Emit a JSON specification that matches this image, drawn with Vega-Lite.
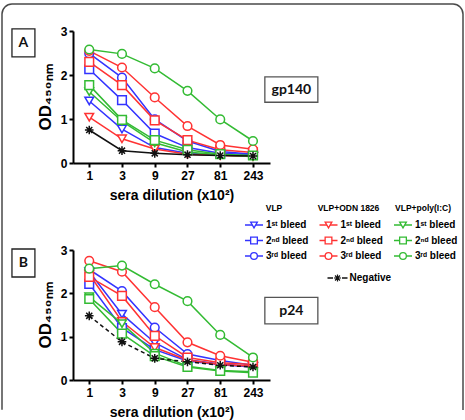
{
  "$schema": "https://vega.github.io/schema/vega-lite/v6.json",
  "width": 465,
  "height": 420,
  "autosize": {"type": "fit", "contains": "padding"},
  "padding": {"left": 2, "top": 4, "right": 2, "bottom": 0},
  "background": "white",
  "config": {
    "view": {"stroke": "#4a4a4a", "strokeWidth": 1.5, "cornerRadius": 10, "strokeDash": [852.7, 472.4, 420]},
    "axis": {
      "grid": false,
      "domainColor": "black",
      "domainWidth": 2,
      "tickColor": "black",
      "tickWidth": 2,
      "tickSize": 4,
      "labelFont": "Liberation Sans",
      "labelFontWeight": "bold",
      "labelFontSize": 12,
      "labelColor": "black",
      "labelPadding": 2,
      "titleFont": "Liberation Sans",
      "titleFontWeight": "bold",
      "titleColor": "black"
    },
    "axisX": {"titleFontSize": 14, "titlePadding": 7, "labelPadding": 3},
    "axisY": {"titleFontSize": 17, "titlePadding": 6},
    "text": {"font": "Liberation Sans", "color": "black"}
  },
  "datasets": {
    "od": [
      {"panel": "A", "grp": "VLP", "bleed": "1st", "dil": 1, "od": 1.41},
      {"panel": "A", "grp": "VLP", "bleed": "1st", "dil": 3, "od": 0.77},
      {"panel": "A", "grp": "VLP", "bleed": "1st", "dil": 9, "od": 0.35},
      {"panel": "A", "grp": "VLP", "bleed": "1st", "dil": 27, "od": 0.22},
      {"panel": "A", "grp": "VLP", "bleed": "1st", "dil": 81, "od": 0.18},
      {"panel": "A", "grp": "VLP", "bleed": "1st", "dil": 243, "od": 0.16},
      {"panel": "A", "grp": "VLP", "bleed": "2nd", "dil": 1, "od": 2.13},
      {"panel": "A", "grp": "VLP", "bleed": "2nd", "dil": 3, "od": 1.43},
      {"panel": "A", "grp": "VLP", "bleed": "2nd", "dil": 9, "od": 0.67},
      {"panel": "A", "grp": "VLP", "bleed": "2nd", "dil": 27, "od": 0.35},
      {"panel": "A", "grp": "VLP", "bleed": "2nd", "dil": 81, "od": 0.22},
      {"panel": "A", "grp": "VLP", "bleed": "2nd", "dil": 243, "od": 0.19},
      {"panel": "A", "grp": "VLP", "bleed": "3rd", "dil": 1, "od": 2.49},
      {"panel": "A", "grp": "VLP", "bleed": "3rd", "dil": 3, "od": 1.94},
      {"panel": "A", "grp": "VLP", "bleed": "3rd", "dil": 9, "od": 0.99},
      {"panel": "A", "grp": "VLP", "bleed": "3rd", "dil": 27, "od": 0.50},
      {"panel": "A", "grp": "VLP", "bleed": "3rd", "dil": 81, "od": 0.26},
      {"panel": "A", "grp": "VLP", "bleed": "3rd", "dil": 243, "od": 0.20},
      {"panel": "A", "grp": "VLP+ODN 1826", "bleed": "1st", "dil": 1, "od": 1.04},
      {"panel": "A", "grp": "VLP+ODN 1826", "bleed": "1st", "dil": 3, "od": 0.55},
      {"panel": "A", "grp": "VLP+ODN 1826", "bleed": "1st", "dil": 9, "od": 0.32},
      {"panel": "A", "grp": "VLP+ODN 1826", "bleed": "1st", "dil": 27, "od": 0.20},
      {"panel": "A", "grp": "VLP+ODN 1826", "bleed": "1st", "dil": 81, "od": 0.17},
      {"panel": "A", "grp": "VLP+ODN 1826", "bleed": "1st", "dil": 243, "od": 0.15},
      {"panel": "A", "grp": "VLP+ODN 1826", "bleed": "2nd", "dil": 1, "od": 2.30},
      {"panel": "A", "grp": "VLP+ODN 1826", "bleed": "2nd", "dil": 3, "od": 1.77},
      {"panel": "A", "grp": "VLP+ODN 1826", "bleed": "2nd", "dil": 9, "od": 0.97},
      {"panel": "A", "grp": "VLP+ODN 1826", "bleed": "2nd", "dil": 27, "od": 0.52},
      {"panel": "A", "grp": "VLP+ODN 1826", "bleed": "2nd", "dil": 81, "od": 0.30},
      {"panel": "A", "grp": "VLP+ODN 1826", "bleed": "2nd", "dil": 243, "od": 0.24},
      {"panel": "A", "grp": "VLP+ODN 1826", "bleed": "3rd", "dil": 1, "od": 2.55},
      {"panel": "A", "grp": "VLP+ODN 1826", "bleed": "3rd", "dil": 3, "od": 2.17},
      {"panel": "A", "grp": "VLP+ODN 1826", "bleed": "3rd", "dil": 9, "od": 1.49},
      {"panel": "A", "grp": "VLP+ODN 1826", "bleed": "3rd", "dil": 27, "od": 0.84},
      {"panel": "A", "grp": "VLP+ODN 1826", "bleed": "3rd", "dil": 81, "od": 0.41},
      {"panel": "A", "grp": "VLP+ODN 1826", "bleed": "3rd", "dil": 243, "od": 0.31},
      {"panel": "A", "grp": "VLP+poly(I:C)", "bleed": "1st", "dil": 1, "od": 1.62},
      {"panel": "A", "grp": "VLP+poly(I:C)", "bleed": "1st", "dil": 3, "od": 0.95},
      {"panel": "A", "grp": "VLP+poly(I:C)", "bleed": "1st", "dil": 9, "od": 0.46},
      {"panel": "A", "grp": "VLP+poly(I:C)", "bleed": "1st", "dil": 27, "od": 0.25},
      {"panel": "A", "grp": "VLP+poly(I:C)", "bleed": "1st", "dil": 81, "od": 0.18},
      {"panel": "A", "grp": "VLP+poly(I:C)", "bleed": "1st", "dil": 243, "od": 0.15},
      {"panel": "A", "grp": "VLP+poly(I:C)", "bleed": "2nd", "dil": 1, "od": 1.77},
      {"panel": "A", "grp": "VLP+poly(I:C)", "bleed": "2nd", "dil": 3, "od": 0.98},
      {"panel": "A", "grp": "VLP+poly(I:C)", "bleed": "2nd", "dil": 9, "od": 0.52},
      {"panel": "A", "grp": "VLP+poly(I:C)", "bleed": "2nd", "dil": 27, "od": 0.30},
      {"panel": "A", "grp": "VLP+poly(I:C)", "bleed": "2nd", "dil": 81, "od": 0.20},
      {"panel": "A", "grp": "VLP+poly(I:C)", "bleed": "2nd", "dil": 243, "od": 0.17},
      {"panel": "A", "grp": "VLP+poly(I:C)", "bleed": "3rd", "dil": 1, "od": 2.58},
      {"panel": "A", "grp": "VLP+poly(I:C)", "bleed": "3rd", "dil": 3, "od": 2.48},
      {"panel": "A", "grp": "VLP+poly(I:C)", "bleed": "3rd", "dil": 9, "od": 2.15},
      {"panel": "A", "grp": "VLP+poly(I:C)", "bleed": "3rd", "dil": 27, "od": 1.64},
      {"panel": "A", "grp": "VLP+poly(I:C)", "bleed": "3rd", "dil": 81, "od": 0.99},
      {"panel": "A", "grp": "VLP+poly(I:C)", "bleed": "3rd", "dil": 243, "od": 0.50},
      {"panel": "A", "grp": "Negative", "bleed": "neg", "dil": 1, "od": 0.75},
      {"panel": "A", "grp": "Negative", "bleed": "neg", "dil": 3, "od": 0.28},
      {"panel": "A", "grp": "Negative", "bleed": "neg", "dil": 9, "od": 0.22},
      {"panel": "A", "grp": "Negative", "bleed": "neg", "dil": 27, "od": 0.19},
      {"panel": "A", "grp": "Negative", "bleed": "neg", "dil": 81, "od": 0.17},
      {"panel": "A", "grp": "Negative", "bleed": "neg", "dil": 243, "od": 0.16},

      {"panel": "B", "grp": "VLP", "bleed": "1st", "dil": 1, "od": 2.50},
      {"panel": "B", "grp": "VLP", "bleed": "1st", "dil": 3, "od": 1.52},
      {"panel": "B", "grp": "VLP", "bleed": "1st", "dil": 9, "od": 0.86},
      {"panel": "B", "grp": "VLP", "bleed": "1st", "dil": 27, "od": 0.47},
      {"panel": "B", "grp": "VLP", "bleed": "1st", "dil": 81, "od": 0.37},
      {"panel": "B", "grp": "VLP", "bleed": "1st", "dil": 243, "od": 0.31},
      {"panel": "B", "grp": "VLP", "bleed": "2nd", "dil": 1, "od": 2.22},
      {"panel": "B", "grp": "VLP", "bleed": "2nd", "dil": 3, "od": 1.20},
      {"panel": "B", "grp": "VLP", "bleed": "2nd", "dil": 9, "od": 0.70},
      {"panel": "B", "grp": "VLP", "bleed": "2nd", "dil": 27, "od": 0.44},
      {"panel": "B", "grp": "VLP", "bleed": "2nd", "dil": 81, "od": 0.35},
      {"panel": "B", "grp": "VLP", "bleed": "2nd", "dil": 243, "od": 0.30},
      {"panel": "B", "grp": "VLP", "bleed": "3rd", "dil": 1, "od": 2.55},
      {"panel": "B", "grp": "VLP", "bleed": "3rd", "dil": 3, "od": 2.05},
      {"panel": "B", "grp": "VLP", "bleed": "3rd", "dil": 9, "od": 1.21},
      {"panel": "B", "grp": "VLP", "bleed": "3rd", "dil": 27, "od": 0.60},
      {"panel": "B", "grp": "VLP", "bleed": "3rd", "dil": 81, "od": 0.45},
      {"panel": "B", "grp": "VLP", "bleed": "3rd", "dil": 243, "od": 0.34},
      {"panel": "B", "grp": "VLP+ODN 1826", "bleed": "1st", "dil": 1, "od": 2.44},
      {"panel": "B", "grp": "VLP+ODN 1826", "bleed": "1st", "dil": 3, "od": 1.35},
      {"panel": "B", "grp": "VLP+ODN 1826", "bleed": "1st", "dil": 9, "od": 0.75},
      {"panel": "B", "grp": "VLP+ODN 1826", "bleed": "1st", "dil": 27, "od": 0.46},
      {"panel": "B", "grp": "VLP+ODN 1826", "bleed": "1st", "dil": 81, "od": 0.36},
      {"panel": "B", "grp": "VLP+ODN 1826", "bleed": "1st", "dil": 243, "od": 0.32},
      {"panel": "B", "grp": "VLP+ODN 1826", "bleed": "2nd", "dil": 1, "od": 2.38},
      {"panel": "B", "grp": "VLP+ODN 1826", "bleed": "2nd", "dil": 3, "od": 1.94},
      {"panel": "B", "grp": "VLP+ODN 1826", "bleed": "2nd", "dil": 9, "od": 1.02},
      {"panel": "B", "grp": "VLP+ODN 1826", "bleed": "2nd", "dil": 27, "od": 0.52},
      {"panel": "B", "grp": "VLP+ODN 1826", "bleed": "2nd", "dil": 81, "od": 0.40},
      {"panel": "B", "grp": "VLP+ODN 1826", "bleed": "2nd", "dil": 243, "od": 0.36},
      {"panel": "B", "grp": "VLP+ODN 1826", "bleed": "3rd", "dil": 1, "od": 2.75},
      {"panel": "B", "grp": "VLP+ODN 1826", "bleed": "3rd", "dil": 3, "od": 2.50},
      {"panel": "B", "grp": "VLP+ODN 1826", "bleed": "3rd", "dil": 9, "od": 1.68},
      {"panel": "B", "grp": "VLP+ODN 1826", "bleed": "3rd", "dil": 27, "od": 0.87},
      {"panel": "B", "grp": "VLP+ODN 1826", "bleed": "3rd", "dil": 81, "od": 0.56},
      {"panel": "B", "grp": "VLP+ODN 1826", "bleed": "3rd", "dil": 243, "od": 0.41},
      {"panel": "B", "grp": "VLP+poly(I:C)", "bleed": "1st", "dil": 1, "od": 1.92},
      {"panel": "B", "grp": "VLP+poly(I:C)", "bleed": "1st", "dil": 3, "od": 1.30},
      {"panel": "B", "grp": "VLP+poly(I:C)", "bleed": "1st", "dil": 9, "od": 0.62},
      {"panel": "B", "grp": "VLP+poly(I:C)", "bleed": "1st", "dil": 27, "od": 0.32},
      {"panel": "B", "grp": "VLP+poly(I:C)", "bleed": "1st", "dil": 81, "od": 0.22},
      {"panel": "B", "grp": "VLP+poly(I:C)", "bleed": "1st", "dil": 243, "od": 0.19},
      {"panel": "B", "grp": "VLP+poly(I:C)", "bleed": "2nd", "dil": 1, "od": 1.87},
      {"panel": "B", "grp": "VLP+poly(I:C)", "bleed": "2nd", "dil": 3, "od": 1.07},
      {"panel": "B", "grp": "VLP+poly(I:C)", "bleed": "2nd", "dil": 9, "od": 0.55},
      {"panel": "B", "grp": "VLP+poly(I:C)", "bleed": "2nd", "dil": 27, "od": 0.30},
      {"panel": "B", "grp": "VLP+poly(I:C)", "bleed": "2nd", "dil": 81, "od": 0.21},
      {"panel": "B", "grp": "VLP+poly(I:C)", "bleed": "2nd", "dil": 243, "od": 0.17},
      {"panel": "B", "grp": "VLP+poly(I:C)", "bleed": "3rd", "dil": 1, "od": 2.57},
      {"panel": "B", "grp": "VLP+poly(I:C)", "bleed": "3rd", "dil": 3, "od": 2.64},
      {"panel": "B", "grp": "VLP+poly(I:C)", "bleed": "3rd", "dil": 9, "od": 2.21},
      {"panel": "B", "grp": "VLP+poly(I:C)", "bleed": "3rd", "dil": 27, "od": 1.82},
      {"panel": "B", "grp": "VLP+poly(I:C)", "bleed": "3rd", "dil": 81, "od": 1.04},
      {"panel": "B", "grp": "VLP+poly(I:C)", "bleed": "3rd", "dil": 243, "od": 0.52},
      {"panel": "B", "grp": "Negative", "bleed": "neg", "dil": 1, "od": 1.48},
      {"panel": "B", "grp": "Negative", "bleed": "neg", "dil": 3, "od": 0.88},
      {"panel": "B", "grp": "Negative", "bleed": "neg", "dil": 9, "od": 0.50},
      {"panel": "B", "grp": "Negative", "bleed": "neg", "dil": 27, "od": 0.42},
      {"panel": "B", "grp": "Negative", "bleed": "neg", "dil": 81, "od": 0.34},
      {"panel": "B", "grp": "Negative", "bleed": "neg", "dil": 243, "od": 0.30}
    ],
    "labels": [
      {"panel": "A", "kind": "corner", "text": "A", "dil": 0.11, "od": 2.73},
      {"panel": "A", "kind": "antigen", "text": "gp140", "dil": 880, "od": 1.67},
      {"panel": "B", "kind": "corner", "text": "B", "dil": 0.11, "od": 2.70},
      {"panel": "B", "kind": "antigen", "text": "p24", "dil": 880, "od": 1.60}
    ],
    "legend": [
      {"grp": "VLP", "bleed": "1st", "label": "1ˢᵗ bleed"},
      {"grp": "VLP", "bleed": "2nd", "label": "2ⁿᵈ bleed"},
      {"grp": "VLP", "bleed": "3rd", "label": "3ʳᵈ bleed"},
      {"grp": "VLP+ODN 1826", "bleed": "1st", "label": "1ˢᵗ bleed"},
      {"grp": "VLP+ODN 1826", "bleed": "2nd", "label": "2ⁿᵈ bleed"},
      {"grp": "VLP+ODN 1826", "bleed": "3rd", "label": "3ʳᵈ bleed"},
      {"grp": "VLP+poly(I:C)", "bleed": "1st", "label": "1ˢᵗ bleed"},
      {"grp": "VLP+poly(I:C)", "bleed": "2nd", "label": "2ⁿᵈ bleed"},
      {"grp": "VLP+poly(I:C)", "bleed": "3rd", "label": "3ʳᵈ bleed"}
    ],
    "groups": [
      {"grp": "VLP"},
      {"grp": "VLP+ODN 1826"},
      {"grp": "VLP+poly(I:C)"}
    ],
    "negative": [
      {"label": "Negative"}
    ]
  },
  "resolve": {"scale": {"x": "independent", "y": "independent"}},
  "layer": [
    {
      "encoding": {
        "x": {"field": "dil", "type": "quantitative",
              "scale": {"type": "log", "base": 3, "domain": [0.58, 430], "range": [71, 268], "nice": false},
              "axis": {"orient": "bottom", "offset": -257, "values": [1, 3, 9, 27, 81, 243], "format": "d", "title": "sera dilution (x10²)"}},
        "y": {"field": "od", "type": "quantitative",
              "scale": {"domain": [0, 3], "range": [159, 27], "nice": false, "zero": false},
              "axis": {"orient": "left", "offset": -71, "values": [0, 1, 2, 3], "title": "OD₄₅₀ₙₘ"}}
      },
      "layer": [
        {
          "data": {"name": "od"},
          "transform": [{"filter": "datum.panel === 'A' && datum.grp !== 'Negative'"}],
          "mark": {"type": "line", "strokeWidth": 1.5},
          "encoding": {
            "color": {"field": "grp", "type": "nominal", "legend": null,
                      "scale": {"domain": ["VLP", "VLP+ODN 1826", "VLP+poly(I:C)", "Negative"], "range": ["#3333ff", "#ff3333", "#33bb33", "#111111"]}},
            "detail": {"field": "bleed"}
          }
        },
        {
          "data": {"name": "od"},
          "transform": [{"filter": "datum.panel === 'A' && datum.grp === 'Negative'"}],
          "mark": {"type": "line", "color": "#111111", "strokeWidth": 1.5},
          "encoding": {}
        },
        {
          "data": {"name": "od"},
          "transform": [{"filter": "datum.panel === 'A'"}],
          "mark": {"type": "point", "fill": "white", "strokeWidth": 1.5, "size": 75, "opacity": 1},
          "encoding": {
            "stroke": {"field": "grp", "type": "nominal", "legend": null,
                       "scale": {"domain": ["VLP", "VLP+ODN 1826", "VLP+poly(I:C)", "Negative"], "range": ["#3333ff", "#ff3333", "#33bb33", "#111111"]}},
            "shape": {"field": "bleed", "type": "nominal", "legend": null,
                      "scale": {"domain": ["1st", "2nd", "3rd", "neg"], "range": ["triangle-down", "square", "circle", "M-1,0H1M0,-1V1M-0.7,-0.7L0.7,0.7M-0.7,0.7L0.7,-0.7"]}}
          }
        },
        {
          "data": {"name": "labels"},
          "transform": [{"filter": "datum.panel === 'A' && datum.kind === 'corner'"}],
          "mark": {"type": "point", "shape": "M-0.82,-1H0.82V1H-0.82Z", "size": 784, "fill": "white", "stroke": "#222222", "strokeWidth": 1.3, "opacity": 1}
        },
        {
          "data": {"name": "labels"},
          "transform": [{"filter": "datum.panel === 'A' && datum.kind === 'antigen'"}],
          "mark": {"type": "point", "shape": "M-1,-0.48H1V0.48H-1Z", "size": 2809, "fill": "white", "stroke": "#555555", "strokeWidth": 1.3, "opacity": 1}
        },
        {
          "data": {"name": "labels"},
          "transform": [{"filter": "datum.panel === 'A'"}],
          "mark": {"type": "text", "font": "Lato", "fontWeight": "bold", "fontSize": 14, "color": "#111111"},
          "encoding": {"text": {"field": "text"}}
        }
      ]
    },
    {
      "encoding": {
        "x": {"field": "dil", "type": "quantitative",
              "scale": {"type": "log", "base": 3, "domain": [0.58, 430], "range": [71, 268], "nice": false},
              "axis": {"orient": "bottom", "offset": -40, "values": [1, 3, 9, 27, 81, 243], "format": "d", "title": "sera dilution (x10²)"}},
        "y": {"field": "od", "type": "quantitative",
              "scale": {"domain": [0, 3], "range": [376, 246], "nice": false, "zero": false},
              "axis": {"orient": "left", "offset": -71, "values": [0, 1, 2, 3], "title": "OD₄₅₀ₙₘ"}}
      },
      "layer": [
        {
          "data": {"name": "od"},
          "transform": [{"filter": "datum.panel === 'B' && datum.grp !== 'Negative'"}],
          "mark": {"type": "line", "strokeWidth": 1.5},
          "encoding": {
            "color": {"field": "grp", "type": "nominal", "legend": null,
                      "scale": {"domain": ["VLP", "VLP+ODN 1826", "VLP+poly(I:C)", "Negative"], "range": ["#3333ff", "#ff3333", "#33bb33", "#111111"]}},
            "detail": {"field": "bleed"}
          }
        },
        {
          "data": {"name": "od"},
          "transform": [{"filter": "datum.panel === 'B' && datum.grp === 'Negative'"}],
          "mark": {"type": "line", "color": "#111111", "strokeWidth": 1.5, "strokeDash": [4, 3]},
          "encoding": {}
        },
        {
          "data": {"name": "od"},
          "transform": [{"filter": "datum.panel === 'B'"}],
          "mark": {"type": "point", "fill": "white", "strokeWidth": 1.5, "size": 75, "opacity": 1},
          "encoding": {
            "stroke": {"field": "grp", "type": "nominal", "legend": null,
                       "scale": {"domain": ["VLP", "VLP+ODN 1826", "VLP+poly(I:C)", "Negative"], "range": ["#3333ff", "#ff3333", "#33bb33", "#111111"]}},
            "shape": {"field": "bleed", "type": "nominal", "legend": null,
                      "scale": {"domain": ["1st", "2nd", "3rd", "neg"], "range": ["triangle-down", "square", "circle", "M-1,0H1M0,-1V1M-0.7,-0.7L0.7,0.7M-0.7,0.7L0.7,-0.7"]}}
          }
        },
        {
          "data": {"name": "labels"},
          "transform": [{"filter": "datum.panel === 'B' && datum.kind === 'corner'"}],
          "mark": {"type": "point", "shape": "M-0.82,-1H0.82V1H-0.82Z", "size": 784, "fill": "white", "stroke": "#222222", "strokeWidth": 1.3, "opacity": 1}
        },
        {
          "data": {"name": "labels"},
          "transform": [{"filter": "datum.panel === 'B' && datum.kind === 'antigen'"}],
          "mark": {"type": "point", "shape": "M-1,-0.5H1V0.5H-1Z", "size": 2809, "fill": "white", "stroke": "#555555", "strokeWidth": 1.3, "opacity": 1}
        },
        {
          "data": {"name": "labels"},
          "transform": [{"filter": "datum.panel === 'B'"}],
          "mark": {"type": "text", "font": "Lato", "fontWeight": "bold", "fontSize": 14, "color": "#111111"},
          "encoding": {"text": {"field": "text"}}
        }
      ]
    },
    {
      "encoding": {
        "x": {"field": "grp", "type": "nominal", "axis": null,
              "scale": {"type": "point", "domain": ["VLP", "VLP+ODN 1826", "VLP+poly(I:C)"], "range": [252, 401], "padding": 0}},
        "y": {"field": "bleed", "type": "nominal", "axis": null,
              "scale": {"type": "point", "domain": ["1st", "2nd", "3rd"], "range": [221, 252], "padding": 0}}
      },
      "layer": [
        {
          "data": {"name": "legend"},
          "mark": {"type": "point", "shape": "M-1,0H1", "size": 324, "strokeWidth": 1.5, "opacity": 1},
          "encoding": {
            "stroke": {"field": "grp", "type": "nominal", "legend": null,
                       "scale": {"domain": ["VLP", "VLP+ODN 1826", "VLP+poly(I:C)", "Negative"], "range": ["#3333ff", "#ff3333", "#33bb33", "#111111"]}}
          }
        },
        {
          "data": {"name": "legend"},
          "mark": {"type": "point", "fill": "white", "strokeWidth": 1.3, "size": 45, "opacity": 1},
          "encoding": {
            "stroke": {"field": "grp", "type": "nominal", "legend": null,
                       "scale": {"domain": ["VLP", "VLP+ODN 1826", "VLP+poly(I:C)", "Negative"], "range": ["#3333ff", "#ff3333", "#33bb33", "#111111"]}},
            "shape": {"field": "bleed", "type": "nominal", "legend": null,
                      "scale": {"domain": ["1st", "2nd", "3rd", "neg"], "range": ["triangle-down", "square", "circle", "M-1,0H1M0,-1V1M-0.7,-0.7L0.7,0.7M-0.7,0.7L0.7,-0.7"]}}
          }
        },
        {
          "data": {"name": "legend"},
          "mark": {"type": "text", "align": "left", "dx": 12, "fontWeight": "bold", "fontSize": 10},
          "encoding": {"text": {"field": "label"}}
        },
        {
          "data": {"name": "groups"},
          "mark": {"type": "text", "align": "center", "dx": 20, "dy": -17, "fontWeight": "bold", "fontSize": 8.5},
          "encoding": {"y": {"datum": "1st"}, "text": {"field": "grp"}}
        },
        {
          "data": {"name": "negative"},
          "mark": {"type": "point", "shape": "M-1,0H-0.45M0.45,0H1", "size": 400, "strokeWidth": 1.5, "stroke": "#111111", "xOffset": 9, "yOffset": 22, "opacity": 1},
          "encoding": {"x": {"datum": "VLP+ODN 1826"}, "y": {"datum": "3rd"}}
        },
        {
          "data": {"name": "negative"},
          "mark": {"type": "point", "shape": "M-1,0H1M0,-1V1M-0.7,-0.7L0.7,0.7M-0.7,0.7L0.7,-0.7", "size": 50, "strokeWidth": 1.2, "stroke": "#111111", "xOffset": 9, "yOffset": 22, "opacity": 1},
          "encoding": {"x": {"datum": "VLP+ODN 1826"}, "y": {"datum": "3rd"}}
        },
        {
          "data": {"name": "negative"},
          "mark": {"type": "text", "align": "left", "dx": 21, "dy": 22, "fontWeight": "bold", "fontSize": 10},
          "encoding": {"x": {"datum": "VLP+ODN 1826"}, "y": {"datum": "3rd"}, "text": {"field": "label"}}
        }
      ]
    }
  ]
}
